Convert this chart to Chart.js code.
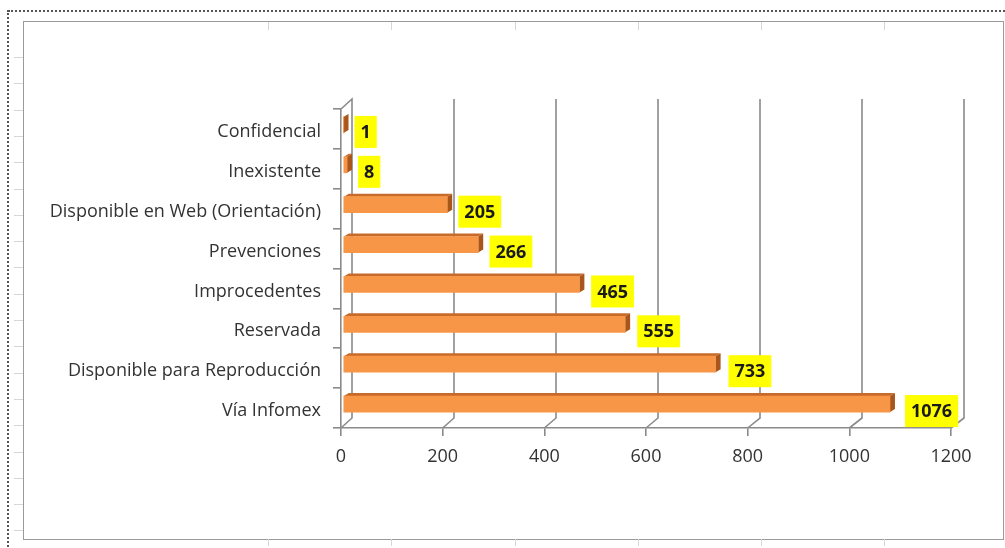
<!DOCTYPE html>
<html>
<head>
<meta charset="utf-8">
<script src="https://cdn.jsdelivr.net/npm/chart.js@4"></script>
<style>
  html, body { margin:0; padding:0; background:#fff; }
  #wrap { position:absolute; left:0; top:0; width:1005px; height:548px; overflow:hidden; background:#fff; }
  #dotTop { position:absolute; left:8px; top:10px; width:1000px; height:0; border-top:2px dotted #555; }
  #dotLeft { position:absolute; left:7px; top:10px; width:0; height:545px; border-left:2px dotted #555; }
  #frame { position:absolute; left:23px; top:21px; width:979px; height:517px; border:1.5px solid #9a9a9a; }
  #cv { position:absolute; left:0; top:0; }
</style>
</head>
<body>
<div id="wrap">
  <div id="dotTop"></div>
  <div id="dotLeft"></div>
  <div id="frame"></div>
  <canvas id="cv" width="1005" height="548"></canvas>
</div>
<script>
const categories = ["Confidencial", "Inexistente", "Disponible en Web (Orientación)", "Prevenciones", "Improcedentes", "Reservada", "Disponible para Reproducción", "Vía Infomex"];
const values = [1, 8, 205, 266, 465, 555, 733, 1076];
const xTicks = [0, 200, 400, 600, 800, 1000, 1200];

const FONT = "'Open Sans', 'DejaVu Sans', sans-serif";
const DEPTH = {x: 5, y: -3};
const SHIFT = {x: 2, y: -4};

const decor = {
  id: 'decor',
  beforeDraw(chart) {
    const ctx = chart.ctx;
    ctx.save();
    ctx.strokeStyle = '#d6d6d6';
    ctx.lineWidth = 1;
    for (let y = 57; y < 536; y += 26.3) { ctx.beginPath(); ctx.moveTo(14, Math.round(y)+0.5); ctx.lineTo(23, Math.round(y)+0.5); ctx.stroke(); }
    for (let x = 268; x < 1000; x += 123.3) { ctx.beginPath(); ctx.moveTo(Math.round(x)+0.5, 22); ctx.lineTo(Math.round(x)+0.5, 30); ctx.stroke(); ctx.beginPath(); ctx.moveTo(Math.round(x)+0.5, 539); ctx.lineTo(Math.round(x)+0.5, 546); ctx.stroke(); }
    ctx.restore();
  },
  beforeDatasetsDraw(chart) {
    const ctx = chart.ctx;
    const xs = chart.scales.x, ys = chart.scales.y;
    const top = ys.top, bottom = ys.bottom;
    ctx.save();
    ctx.strokeStyle = '#8a8a8a';
    ctx.lineWidth = 1.6;
    xTicks.forEach(v => {
      const fx = xs.getPixelForValue(v);
      const dx = 11 + 2 * v / 1200;
      ctx.beginPath();
      if (v === 0) {
        ctx.moveTo(fx, top);
        ctx.lineTo(fx + dx, top - 10);
        ctx.lineTo(fx + dx, bottom - 10);
        ctx.lineTo(fx, bottom);
      } else {
        ctx.moveTo(fx + dx, top - 10);
        ctx.lineTo(fx + dx, bottom - 10);
        ctx.lineTo(fx, bottom);
      }
      ctx.stroke();
    });
    ctx.restore();

    // 3D faces of bars
    ctx.save();
    ctx.translate(SHIFT.x, SHIFT.y);
    const meta = chart.getDatasetMeta(0);
    meta.data.forEach(bar => {
      const p = bar.getProps(['x', 'y', 'base', 'height'], true);
      const t = p.y - p.height / 2, b = p.y + p.height / 2;
      ctx.fillStyle = '#c86a2a';
      ctx.beginPath();
      ctx.moveTo(p.base, t); ctx.lineTo(p.x, t);
      ctx.lineTo(p.x + DEPTH.x, t + DEPTH.y); ctx.lineTo(p.base + DEPTH.x, t + DEPTH.y);
      ctx.closePath(); ctx.fill();
      ctx.fillStyle = '#a9561c';
      ctx.beginPath();
      ctx.moveTo(p.x, t); ctx.lineTo(p.x + DEPTH.x, t + DEPTH.y);
      ctx.lineTo(p.x + DEPTH.x, b + DEPTH.y); ctx.lineTo(p.x, b);
      ctx.closePath(); ctx.fill();
    });
  },
  afterDatasetsDraw(chart) {
    const ctx = chart.ctx;
    ctx.restore();
    const xs = chart.scales.x, ys = chart.scales.y;
    ctx.save();
    ctx.font = "bold 18px " + FONT;
    ctx.textBaseline = 'middle';
    ctx.textAlign = 'center';
    values.forEach((v, i) => {
      const px = xs.getPixelForValue(v);
      const cy = ys.getPixelForValue(i) + 3;
      const txt = String(v);
      const w = ctx.measureText(txt).width + 12;
      const h = 32;
      const r = v / 1200;
      const left = px + 13 + 5 * r * r;
      ctx.fillStyle = '#ffff00';
      ctx.fillRect(left, cy - h / 2, w, h);
      ctx.fillStyle = '#1a1a1a';
      ctx.fillText(txt, left + w / 2, cy + 1);
    });
    ctx.restore();
  }
};

new Chart(document.getElementById('cv'), {
  type: 'bar',
  data: {
    labels: categories,
    datasets: [{
      data: values,
      backgroundColor: '#f79646',
      borderWidth: 0,
      barThickness: 16
    }]
  },
  options: {
    indexAxis: 'y',
    responsive: false,
    animation: false,
    events: [],
    layout: { padding: { left: 0, top: 109, right: 54, bottom: 0 } },
    plugins: { legend: { display: false }, tooltip: { enabled: false } },
    scales: {
      x: {
        type: 'linear',
        min: 0, max: 1200,
        afterFit: s => { s.height = 120; },
        ticks: { stepSize: 200, color: '#333', font: { family: FONT, size: 18 }, padding: 10, callback: v => String(v) },
        grid: { drawOnChartArea: false, drawTicks: true, tickLength: 8, color: '#8a8a8a', lineWidth: 1.6 },
        border: { display: true, color: '#8a8a8a', width: 1.6 }
      },
      y: {
        afterFit: s => { s.width = 341; },
        ticks: { color: '#333', font: { family: FONT, size: 18 }, padding: 12, labelOffset: 3 },
        grid: { drawOnChartArea: false, drawTicks: true, tickLength: 8, color: '#8a8a8a', lineWidth: 1.6, offset: true },
        border: { display: true, color: '#8a8a8a', width: 1.6 }
      }
    }
  },
  plugins: [decor]
});
</script>
</body>
</html>
